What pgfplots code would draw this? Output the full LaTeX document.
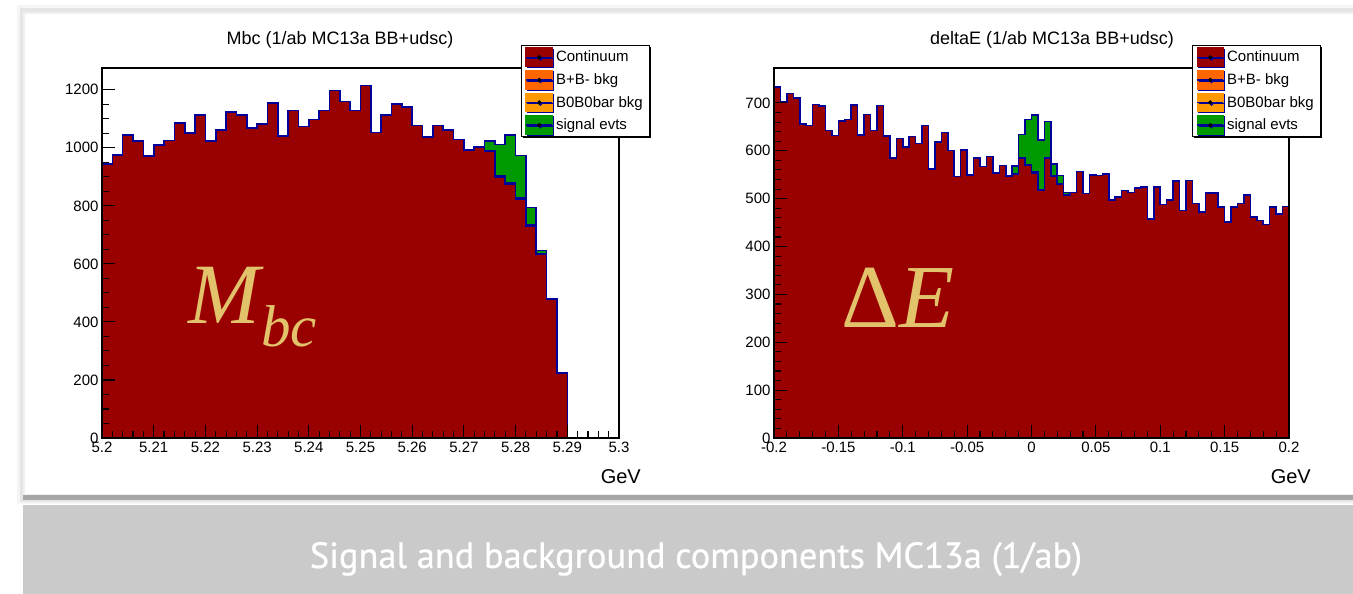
\documentclass[border=0pt]{standalone}
\usepackage{pgfplots}
\pgfplotsset{compat=1.18}
\usepackage{pgfplotstable}
\usepackage{graphicx}
\usepackage{fontspec}
\setmainfont{Liberation Sans}
\newfontfamily\timesf{Liberation Serif}
\newfontfamily\bannerf[FakeBold=0.7]{PT Sans}
\usetikzlibrary{shadows}
\definecolor{contc}{RGB}{153,0,0}
\definecolor{bpc}{RGB}{255,102,0}
\definecolor{bzc}{RGB}{255,153,0}
\definecolor{sigc}{RGB}{0,153,0}
\definecolor{navyc}{RGB}{0,0,153}
\definecolor{goldc}{RGB}{226,194,106}
\definecolor{bannerc}{RGB}{202,202,202}

\pgfplotstableread{
x cont bp bz sig
5.200 945 0 0 0
5.202 976 0 0 0
5.204 1045 0 0 0
5.206 1024 0 0 0
5.208 972 0 0 0
5.210 1009 0 0 0
5.212 1025 0 0 0
5.214 1085 0 0 0
5.216 1051 0 0 0
5.218 1114 0 0 0
5.220 1024 0 0 0
5.222 1061 0 0 0
5.224 1123 0 0 0
5.226 1114 0 0 0
5.228 1068 0 0 0
5.230 1083 0 0 0
5.232 1154 0 0 0
5.234 1041 0 0 0
5.236 1128 0 0 0
5.238 1074 0 0 0
5.240 1097 0 0 0
5.242 1128 0 0 0
5.244 1197 0 0 0
5.246 1159 0 0 0
5.248 1128 0 0 0
5.250 1214 0 0 0
5.252 1053 0 0 0
5.254 1114 0 0 0
5.256 1150 0 0 0
5.258 1140 0 0 0
5.260 1077 0 0 0
5.262 1037 0 0 0
5.264 1077 0 0 0
5.266 1062 0 0 0
5.268 1028 0 0 0
5.270 993 0 0 0
5.272 1002 0 0 0
5.274 987 1 1 35
5.276 897 3 2 110
5.278 874 2 3 166
5.280 823 2 3 145
5.282 731 2 2 59
5.284 632 1 1 12
5.286 477 1 1 0
5.288 223 0 0 0
5.290 223 0 0 0
}\mbctab

\pgfplotstableread{
x cont bp bz sig
-0.200 733 0 0 0
-0.195 702 0 0 0
-0.190 720 0 0 0
-0.185 710 0 0 0
-0.180 656 0 0 0
-0.175 653 0 0 0
-0.170 697 0 0 0
-0.165 694 0 0 0
-0.160 642 0 0 0
-0.155 632 0 0 0
-0.150 662 0 0 0
-0.145 665 0 0 0
-0.140 696 0 0 0
-0.135 633 0 0 0
-0.130 676 0 0 0
-0.125 642 0 0 0
-0.120 695 0 0 0
-0.115 631 0 0 0
-0.110 585 0 0 0
-0.105 626 0 0 0
-0.100 608 0 0 0
-0.095 630 0 0 0
-0.090 615 0 0 0
-0.085 653 0 0 0
-0.080 562 0 0 0
-0.075 619 0 0 0
-0.070 638 0 0 0
-0.065 601 0 0 0
-0.060 546 0 0 0
-0.055 602 0 0 0
-0.050 550 0 0 0
-0.045 585 0 0 0
-0.040 567 0 0 0
-0.035 588 0 0 0
-0.030 553 0 0 0
-0.025 569 0 0 0
-0.020 547 0 0 0
-0.015 551 0 1 16
-0.010 584 1 1 48
-0.005 569 1 1 94
0.000 554 1 1 119
0.005 517 1 1 104
0.010 584 1 1 75
0.015 547 0 1 24
0.020 531 1 0 16
0.025 508 0 0 5
0.030 513 0 0 0
0.035 557 0 0 0
0.040 511 0 0 0
0.045 549 0 0 0
0.050 548 0 0 0
0.055 551 0 0 0
0.060 497 0 0 0
0.065 503 0 0 0
0.070 517 0 0 0
0.075 513 0 0 0
0.080 522 0 0 0
0.085 524 0 0 0
0.090 458 0 0 0
0.095 524 0 0 0
0.100 488 0 0 0
0.105 497 0 0 0
0.110 537 0 0 0
0.115 475 0 0 0
0.120 538 0 0 0
0.125 490 0 0 0
0.130 472 0 0 0
0.135 512 0 0 0
0.140 512 0 0 0
0.145 483 0 0 0
0.150 451 0 0 0
0.155 483 0 0 0
0.160 490 0 0 0
0.165 508 0 0 0
0.170 462 0 0 0
0.175 454 0 0 0
0.180 446 0 0 0
0.185 483 0 0 0
0.190 468 0 0 0
0.195 484 0 0 0
0.200 484 0 0 0
}\detab

\pgfplotsset{
  rootaxis/.style={
    scale only axis, anchor=south west, axis on top,
    tick align=inside, tick pos=left,
    axis line style={line width=1.3pt},
    tick style={black, line width=1.1pt},
    major tick length=13pt, minor tick length=6.5pt,
    tick label style={font=\fontsize{15}{15}\selectfont},
    /pgf/number format/assume math mode=true,
    /pgf/number format/1000 sep={},
    xticklabel style={/pgf/number format/fixed, /pgf/number format/precision=3},
    ymin=0,
    reverse legend,
    legend cell align=left,
    legend style={anchor=north west, draw=black, line width=1pt, fill=white,
      drop shadow={shadow xshift=1.2pt, shadow yshift=-1.2pt, fill=black, opacity=1},
      font=\fontsize{15}{17}\selectfont, row sep=3pt, inner xsep=4pt, inner ysep=2pt,
      nodes={inner xsep=3pt}},
  },
  hist/.style={const plot mark left, draw=navyc, line width=1.6pt, mark=none, fill=#1,
    legend image code/.code={
      \fill[#1] (0pt,-9pt) rectangle (26pt,9pt);
      \draw[navyc, line width=1.3pt] (0pt,0pt) -- (26pt,0pt);
      \fill[black] (13pt,0pt) circle (1.2pt);}},
}

\begin{document}
\begin{tikzpicture}[x=1pt,y=1pt]
\path[use as bounding box] (0,0) rectangle (1353,594);
\fill[white] (0,0) rectangle (1353,594);
% card with shadow
\fill[black!4] (17,90) rectangle (1353,589);
\fill[black!10] (20,92) rectangle (1353,586);
\fill[black!35] (23,94) rectangle (1353,99);
\fill[white, draw=black!6, line width=1.5pt] (24,99.5) rectangle (1356,581);
% banner
\fill[bannerc] (23,0) rectangle (1353,88.5);
\node[white, inner sep=0] at (696,35) {\resizebox{772pt}{!}{\bannerf Signal and background components MC13a (1/ab)}};

% ---------- Mbc ----------
\begin{axis}[rootaxis,
  at={(102pt,156pt)}, width=517pt, height=370pt,
  xmin=5.2, xmax=5.3, ymax=1275,
  xtick={5.20,5.21,5.22,5.23,5.24,5.25,5.26,5.27,5.28,5.29,5.30},
  ytick={0,200,400,600,800,1000,1200},
  minor x tick num=4, minor y tick num=3,
  legend style={at={(axis description cs:0.8104,1.0622)}},
]
\addplot[hist=sigc] table[x=x, y expr=\thisrow{cont}+\thisrow{bp}+\thisrow{bz}+\thisrow{sig}] {\mbctab} \closedcycle;
\addlegendentry{signal evts}
\addplot[hist=bzc] table[x=x, y expr=\thisrow{cont}+\thisrow{bp}+\thisrow{bz}] {\mbctab} \closedcycle;
\addlegendentry{B0B0bar bkg}
\addplot[hist=bpc] table[x=x, y expr=\thisrow{cont}+\thisrow{bp}] {\mbctab} \closedcycle;
\addlegendentry{B+B- bkg}
\addplot[hist=contc] table[x=x, y=cont] {\mbctab} \closedcycle;
\addlegendentry{Continuum}
\end{axis}

% ---------- deltaE ----------
\begin{axis}[rootaxis,
  at={(774pt,156pt)}, width=515pt, height=370pt,
  xmin=-0.2, xmax=0.2, ymax=773,
  xtick={-0.2,-0.15,-0.1,-0.05,0,0.05,0.1,0.15,0.2},
  ytick={0,100,200,300,400,500,600,700},
  minor x tick num=4, minor y tick num=4,
  legend style={at={(axis description cs:0.8117,1.0622)}},
]
\addplot[hist=sigc] table[x=x, y expr=\thisrow{cont}+\thisrow{bp}+\thisrow{bz}+\thisrow{sig}] {\detab} \closedcycle;
\addlegendentry{signal evts}
\addplot[hist=bzc] table[x=x, y expr=\thisrow{cont}+\thisrow{bp}+\thisrow{bz}] {\detab} \closedcycle;
\addlegendentry{B0B0bar bkg}
\addplot[hist=bpc] table[x=x, y expr=\thisrow{cont}+\thisrow{bp}] {\detab} \closedcycle;
\addlegendentry{B+B- bkg}
\addplot[hist=contc] table[x=x, y=cont] {\detab} \closedcycle;
\addlegendentry{Continuum}
\end{axis}

% titles and labels
\node[font=\fontsize{18}{18}\selectfont] at (340,554) {Mbc (1/ab MC13a BB+udsc)};
\node[font=\fontsize{18}{18}\selectfont] at (1052,554) {deltaE (1/ab MC13a BB+udsc)};
\node[anchor=east, inner sep=0, font=\fontsize{20}{20}\selectfont] at (641,117) {GeV};
\node[anchor=east, inner sep=0, font=\fontsize{20}{20}\selectfont] at (1311,117) {GeV};

% big labels
\node[anchor=base west, inner sep=0, goldc] at (188,270) {\timesf\itshape\fontsize{86}{86}\selectfont M};
\node[anchor=base west, inner sep=0, goldc] at (261,247) {\timesf\itshape\fontsize{59}{59}\selectfont bc};
\node[anchor=base west, inner sep=0, goldc] at (841,266) {\timesf\fontsize{90}{90}\selectfont Δ\itshape E};
\end{tikzpicture}
\end{document}
